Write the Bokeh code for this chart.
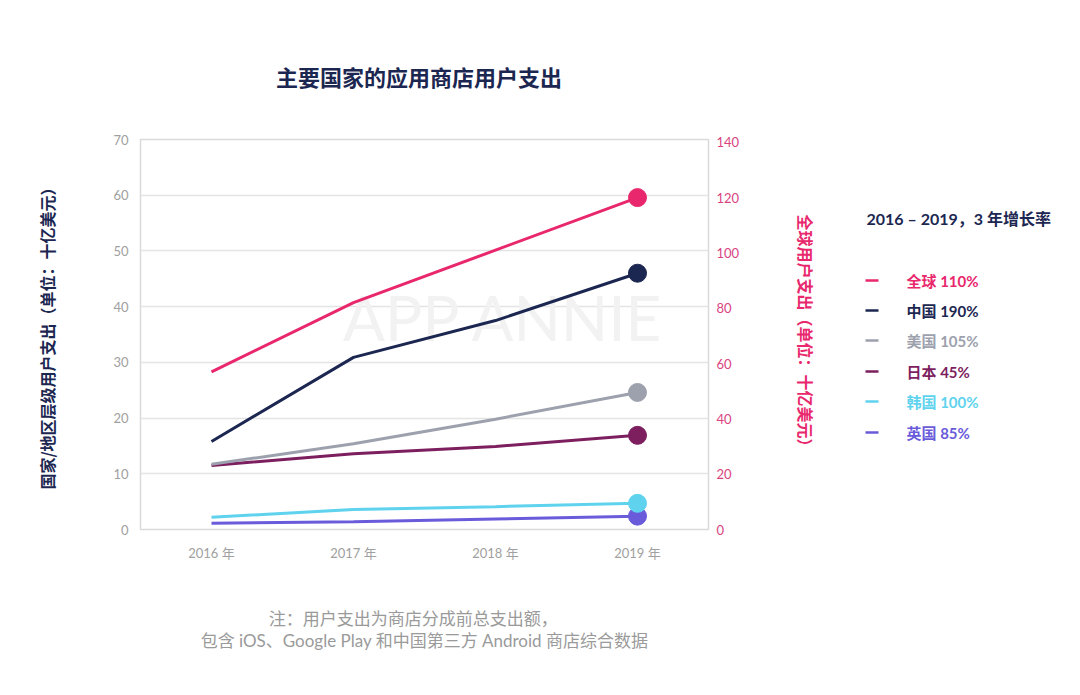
import math
from bokeh.plotting import figure
from bokeh.models import Range1d, LinearAxis, Label, FixedTicker, Title
from bokeh.layouts import row
from bokeh.core.properties import value
from bokeh.embed import file_html
from bokeh.resources import INLINE

# ---------------- data ----------------
years = [2016, 2017, 2018, 2019]
year_labels = ["2016 年", "2017 年", "2018 年", "2019 年"]
global_spend = [57, 82, 101, 120]          # right axis (十亿美元)
china = [15.8, 30.9, 37.5, 46.0]
usa = [11.7, 15.4, 19.8, 24.6]
japan = [11.5, 13.6, 14.9, 16.9]
korea = [2.2, 3.6, 4.1, 4.7]
uk = [1.1, 1.4, 1.9, 2.4]

legend_title = "2016 – 2019，3 年增长率"
legend_names = ["全球 110%", "中国 190%", "美国 105%", "日本 45%", "韩国 100%", "英国 85%"]
footnote_1 = "注：用户支出为商店分成前总支出额，"
footnote_2 = "包含 iOS、Google Play 和中国第三方 Android 商店综合数据"

NAVY = "#1c2751"
PINK = "#e8276d"
GRAY = "#9ca1ad"
PLUM = "#7d1f5f"
CYAN = "#5fd3ee"
PURPLE = "#6a5bdb"
legend_colors = [PINK, NAVY, GRAY, PLUM, CYAN, PURPLE]

CJK = "Noto Sans CJK SC"
LAT = "Lato, 'Noto Sans CJK SC'"
TICK_GRAY = "#a0a0a0"

# geometry (page pixels)
FL, FR, FT, FB = 140, 708, 139, 529
MAIN_W, LEG_W, H = 830, 246, 695

p = figure(width=MAIN_W, height=H, output_backend="svg", toolbar_location=None,
           x_range=Range1d(2015.5, 2019.5), y_range=Range1d(0, 70),
           min_border_left=FL, min_border_right=MAIN_W - FR,
           min_border_top=FT, min_border_bottom=H - FB,
           background_fill_color="white", border_fill_color="white")
p.extra_y_ranges = {"glob": Range1d(0, 141)}

p.outline_line_color = "#dadada"
p.outline_line_width = 1.5
p.xgrid.grid_line_color = None
p.ygrid.grid_line_color = "#e4e4e4"
p.ygrid.grid_line_width = 1.5

# title
p.title.text = "主要国家的应用商店用户支出\u2002"
p.title.align = "center"
p.title.text_font = CJK
p.title.text_font_size = "22px"
p.title.text_font_style = "bold"
p.title.text_color = NAVY
p.title.standoff = 96

# left axis
ya = p.yaxis[0]
ya.ticker = FixedTicker(ticks=[0, 10, 20, 30, 40, 50, 60, 70])
ya.axis_line_color = None
ya.major_tick_line_color = None
ya.major_tick_out = 0
ya.major_tick_in = 0
ya.minor_tick_line_color = None
ya.major_label_text_color = TICK_GRAY
ya.major_label_text_font = LAT
ya.major_label_text_font_size = "13px"
ya.major_label_standoff = 12
ya.axis_label = "国家/地区层级用户支出（单位：十亿美元）"
ya.axis_label_text_font = CJK
ya.axis_label_text_font_size = "16px"
ya.axis_label_text_font_style = "bold"
ya.axis_label_text_color = NAVY
ya.axis_label_standoff = 51

# bottom axis
xa = p.xaxis[0]
xa.ticker = FixedTicker(ticks=years)
xa.major_label_overrides = {y: l for y, l in zip(years, year_labels)}
xa.axis_line_color = None
xa.major_tick_line_color = None
xa.major_tick_out = 0
xa.major_tick_in = 0
xa.minor_tick_line_color = None
xa.major_label_text_color = TICK_GRAY
xa.major_label_text_font = LAT
xa.major_label_text_font_size = "13px"
xa.major_label_standoff = 15

# right axis
ra = LinearAxis(y_range_name="glob", ticker=FixedTicker(ticks=[0, 20, 40, 60, 80, 100, 120, 140]))
ra.axis_line_color = None
ra.major_tick_line_color = None
ra.major_tick_out = 0
ra.major_tick_in = 0
ra.minor_tick_line_color = None
ra.major_label_text_color = "#d9447f"
ra.major_label_text_font = LAT
ra.major_label_text_font_size = "13px"
ra.major_label_standoff = 8
ra.axis_label = "全球用户支出（单位：十亿美元）"
ra.axis_label_text_font = CJK
ra.axis_label_text_font_size = "16px"
ra.axis_label_text_font_style = "bold"
ra.axis_label_text_color = PINK
ra.axis_label_standoff = 52
p.add_layout(ra, "right")

# footnote (two lines; first line padded so both lines sit centred)
p.add_layout(Title(text="\u3000" * 4 + footnote_1 + "\n" + footnote_2,
                   align="center", text_font=LAT, text_font_size="17px",
                   text_font_style="normal", text_color="#9a9a9a", text_line_height=1.07,
                   standoff=86), "below")

# watermark (inside the plot frame)
p.add_layout(Label(x=2018.06, y=38.2, text="APP ANNIE", text_align="center",
                   text_baseline="middle", text_font="Lato", text_font_size="62px",
                   text_color="#f2f2f2", level="underlay"))

# series lines
series = [(uk, PURPLE), (korea, CYAN), (japan, PLUM), (usa, GRAY), (china, NAVY)]
for vals, col in series:
    p.line(years, vals, line_color=col, line_width=3)
    p.scatter([years[-1]], [vals[-1]], size=18, fill_color=col, line_color=col)
p.line(years, global_spend, line_color=PINK, line_width=3, y_range_name="glob")
p.scatter([years[-1]], [global_spend[-1]], size=18, fill_color=PINK, line_color=PINK,
          y_range_name="glob")

# ---------------- legend panel (page-pixel coordinates; frame aligned with main frame) ----------------
lg = figure(width=LEG_W, height=H, output_backend="svg", toolbar_location=None,
            x_range=Range1d(MAIN_W, MAIN_W + LEG_W), y_range=Range1d(FB, FT),
            min_border=0, min_border_left=0, min_border_right=0,
            min_border_top=0, min_border_bottom=0,
            background_fill_color="white", border_fill_color="white")
lg.axis.visible = False
lg.grid.visible = False
lg.outline_line_color = None

lg.text(x=[866], y=[218], text=[legend_title], text_align="left", text_baseline="middle",
        text_font=value(LAT), text_font_size="16px", text_font_style="bold",
        text_color=NAVY)
item_y = [280, 310, 340, 371, 401, 432]
lg.segment(x0=[865] * 6, x1=[878] * 6, y0=item_y, y1=item_y, line_color=legend_colors,
           line_width=2.5)
lg.text(x=[906] * 6, y=item_y, text=legend_names, text_align="left", text_baseline="middle",
        text_font=value(LAT), text_font_size="15px", text_font_style="bold",
        text_color=legend_colors)

layout = row(p, lg, spacing=0)
open("out.html", "w").write(file_html(layout, INLINE))
